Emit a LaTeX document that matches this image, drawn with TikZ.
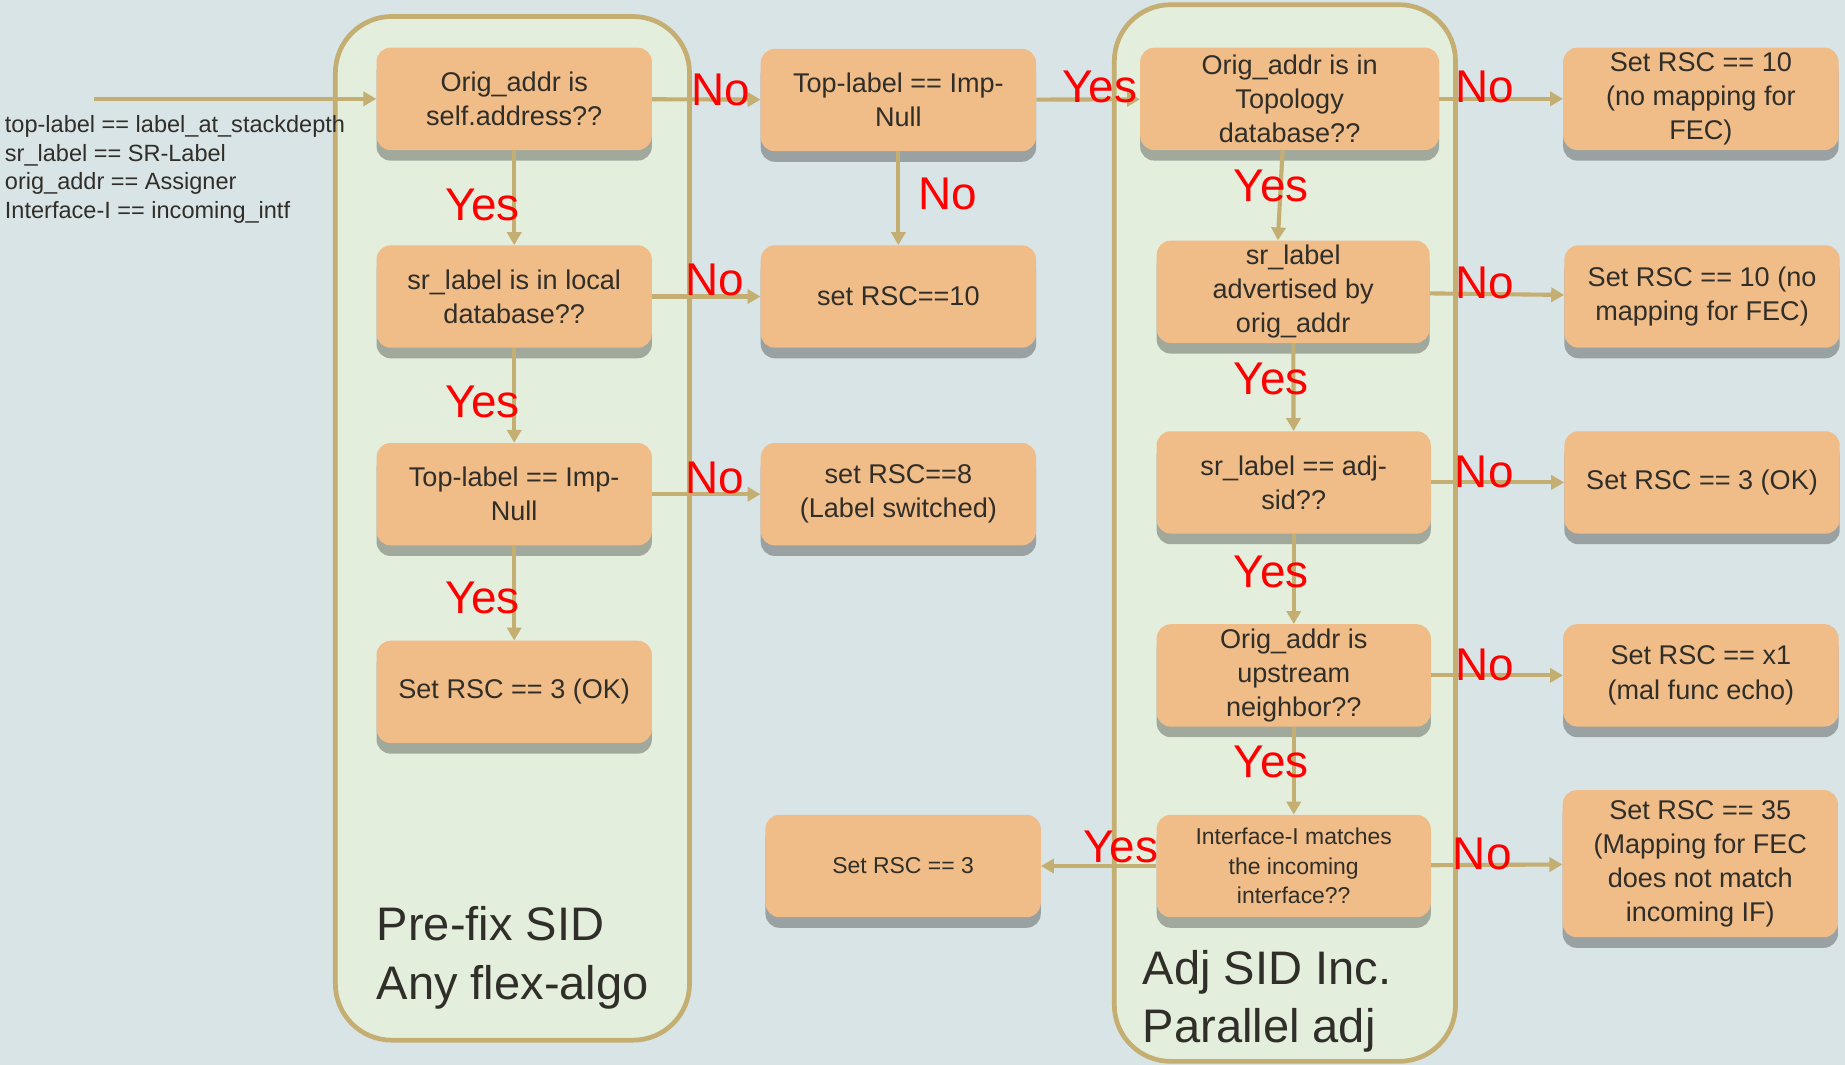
\documentclass[tikz,border=0pt]{standalone}
\usepackage{fontspec}
\setmainfont{Liberation Sans}
\usetikzlibrary{arrows.meta,shadows}

\definecolor{bgblue}{RGB}{217,228,230}
\definecolor{panelgreen}{RGB}{227,238,221}
\definecolor{tanline}{RGB}{196,174,114}
\definecolor{boxorange}{RGB}{240,188,136}
\definecolor{txtdark}{RGB}{48,46,40}

\tikzset{
  box/.style={rectangle, rounded corners=12pt, fill=boxorange, text=txtdark,
    minimum width=234pt, minimum height=87pt, inner sep=0pt, align=center,
    font=\fontsize{23}{29}\selectfont,
    drop shadow={shadow xshift=0pt, shadow yshift=-9pt, fill=black, opacity=.29}},
  smallbox/.style={box, font=\fontsize{19.5}{25}\selectfont},
  panel/.style={draw=tanline, line width=4pt, fill=panelgreen, rounded corners=48pt},
  flow/.style={draw=tanline, line width=3.5pt, -{Triangle[length=11pt,width=12pt]}},
  yesno/.style={text=red, inner sep=0pt, font=\fontsize{39}{39}\selectfont},
  legend/.style={text=txtdark, inner sep=0pt, align=left, font=\fontsize{20}{24.5}\selectfont},
  paneltitle/.style={text=txtdark, inner sep=0pt, align=left, font=\fontsize{40}{50}\selectfont}
}

\begin{document}
\begin{tikzpicture}[x=1pt,y=-1pt]
\fill[bgblue] (0,0) rectangle (1568,905);
\useasboundingbox (0,0) rectangle (1568,905);

% the two groups
\draw[panel] (285,14) rectangle (586,884);
\draw[panel] (947,4) rectangle (1237,902);
\node[paneltitle, anchor=west] (pfxtitle) at (320,814) {Pre-fix SID\\Any flex-algo};
\node[paneltitle, anchor=west] (adjtitle) at (971,851) {Adj SID Inc.\\Parallel adj};

% legend
\node[legend, anchor=west] (legend) at (4,144) {top-label == label\_at\_stackdepth\\sr\_label == SR-Label\\orig\_addr == Assigner\\Interface-I == incoming\_intf};
\coordinate (start) at (80,84);

% prefix sid checks
\node[box] (L1) at (437,84) {Orig\_addr is\\self.address??};
\node[box] (L2) at (437,252) {sr\_label is in local\\database??};
\node[box] (L3) at (437,420) {Top-label == Imp-\\Null};
\node[box] (L4) at (437,588) {Set RSC == 3 (OK)};

% middle column
\node[box] (M1) at (763.5,85) {Top-label == Imp-\\Null};
\node[box] (M2) at (763.5,252) {set RSC==10};
\node[box] (M3) at (763.5,420) {set RSC==8\\(Label switched)};
\node[smallbox] (M4) at (767.5,736) {Set RSC == 3};

% adj sid checks
\node[box, minimum width=254pt] (R1) at (1096,84) {Orig\_addr is in\\Topology\\database??};
\node[box, minimum width=232pt] (R2) at (1099,248) {sr\_label\\advertised by\\orig\_addr};
\node[box, minimum width=233pt] (R3) at (1099.5,410) {sr\_label == adj-\\sid??};
\node[box, minimum width=233pt] (R4) at (1099.5,574) {Orig\_addr is\\upstream\\neighbor??};
\node[smallbox, minimum width=233pt] (R5) at (1099.5,736) {Interface-I matches\\the incoming\\interface??};

% results
\node[box] (F1) at (1445.5,84) {Set RSC == 10\\(no mapping for\\FEC)};
\node[box] (F2) at (1446.5,252) {Set RSC == 10 (no\\mapping for FEC)};
\node[box] (F3) at (1446.5,410) {Set RSC == 3 (OK)};
\node[box] (F4) at (1445.5,574) {Set RSC == x1\\(mal func echo)};
\node[box, minimum height=125pt] (F5) at (1445,734) {Set RSC == 35\\(Mapping for FEC\\does not match\\incoming IF)};

% connectors
\draw[flow] (start) -- (L1);
\draw[flow] (L1) -- node[yesno, pos=.63, yshift=8pt] {No} (M1);
\draw[flow] (M1) -- node[yesno, pos=.61, yshift=11pt] {Yes} (R1);
\draw[flow] (R1) -- node[yesno, pos=.37, yshift=10pt] {No} (F1);
\draw[flow] (L1) -- node[yesno, pos=.58, xshift=-27pt] {Yes} (L2);
\draw[flow] (M1) -- node[yesno, pos=.45, xshift=42pt] {No} (M2);
\draw[flow] (L2) -- node[yesno, pos=.58, yshift=14pt] {No} (M2);
\draw[flow] (L2) -- node[yesno, pos=.57, xshift=-27pt] {Yes} (L3);
\draw[flow] (L3) -- node[yesno, pos=.58, yshift=14pt] {No} (M3);
\draw[flow] (L3) -- node[yesno, pos=.55, xshift=-27pt] {Yes} (L4);
\draw[flow] ([xshift=-6pt]R1.south) -- node[yesno, pos=.4, xshift=-8pt] {Yes} ([xshift=-13pt]R2.north);
\draw[flow] (R2) -- node[yesno, pos=.41, yshift=9pt] {No} (F2);
\draw[flow] (R2) -- node[yesno, pos=.41, xshift=-19pt] {Yes} (R3);
\draw[flow] (R3) -- node[yesno, pos=.4, yshift=9pt] {No} (F3);
\draw[flow] (R3) -- node[yesno, pos=.42, xshift=-19pt] {Yes} (R4);
\draw[flow] (R4) -- node[yesno, pos=.41, yshift=9pt] {No} (F4);
\draw[flow] (R4) -- node[yesno, pos=.4, xshift=-19pt] {Yes} (R5);
\draw[flow] (R5) -- node[yesno, pos=.31, yshift=16pt] {Yes} (M4);
\draw[flow] (R5) -- node[yesno, pos=.39, yshift=9pt] {No} (F5);
\end{tikzpicture}
\end{document}
